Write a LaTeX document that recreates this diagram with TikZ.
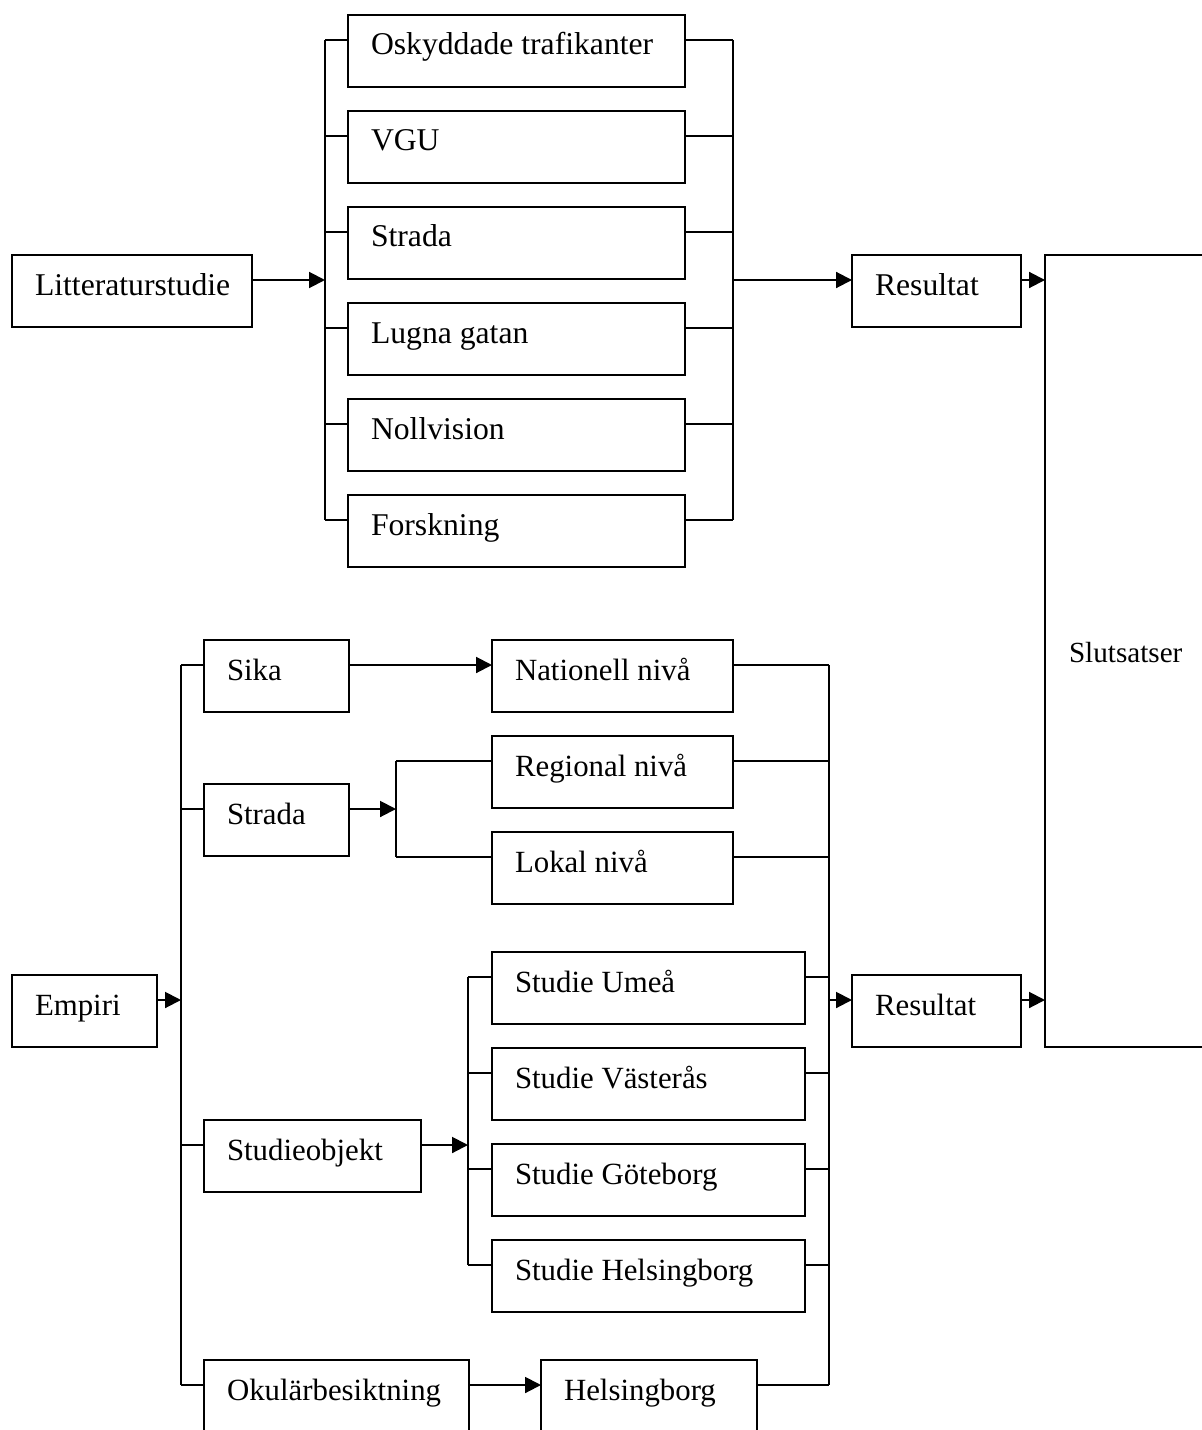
\documentclass[tikz,border=0pt]{standalone}
\usepackage{fontspec}
\setmainfont{Liberation Serif}
\usetikzlibrary{arrows.meta,calc}
\newcommand\mybox[6]{%
  \node[bx={#4}{#5}] (#1) at (#2,#3) {};
  \node[lbl] (#1-t) at ($(#1.north west)+(22,40)$) {#6};
  \coordinate (#1-l) at ($(#1.north west)+(0,25)$);
  \coordinate (#1-r) at ($(#1.north east)+(0,25)$);
}
\begin{document}
\begin{tikzpicture}[x=0.6pt,y=-0.6pt,
  line width=1.2pt,
  bx/.style 2 args={draw, rectangle, inner sep=0pt, outer sep=0pt, anchor=north west,
    minimum width={#1*0.6pt}, minimum height={#2*0.6pt}},
  lbl/.style={anchor=base west, inner sep=0pt, font=\fontsize{19}{22}\selectfont},
  arr/.style={-{Triangle[length=9.5pt,width=9.5pt]}}]
\useasboundingbox (0,0) rectangle (1202,1430);
\clip (0,0) rectangle (1202,1430);
% ---------- top group ----------
\mybox{lit}{12}{255}{240}{72}{Litteraturstudie}
\mybox{osk}{348}{15}{337}{72}{Oskyddade trafikanter}
\mybox{vgu}{348}{111}{337}{72}{VGU}
\mybox{str}{348}{207}{337}{72}{Strada}
\mybox{lug}{348}{303}{337}{72}{Lugna gatan}
\mybox{nol}{348}{399}{337}{72}{Nollvision}
\mybox{for}{348}{495}{337}{72}{Forskning}
\mybox{resa}{852}{255}{169}{72}{Resultat}
% Slutsatser
\node[bx={210}{792}] (slut) at (1045,255) {};
\node[lbl, font=\fontsize{17.5}{21}\selectfont] (slut-t) at ($(slut.north west)+(23,407)$) {Slutsatser};
\coordinate (slut-a) at ($(slut.north west)+(0,25)$);
\coordinate (slut-b) at ($(slut.north west)+(0,745)$);
\coordinate (b1) at (325,0);
\coordinate (b2) at (733,0);
\draw[arr] (lit-r) -- (b1 |- lit-r);
\draw (b1 |- osk-l) -- (b1 |- for-l);
\draw (b2 |- osk-r) -- (b2 |- for-r);
\foreach \n in {osk,vgu,str,lug,nol,for}{
  \draw (b1 |- \n-l) -- (\n-l);
  \draw (\n-r) -- (b2 |- \n-r);
}
\draw[arr] (b2 |- resa-l) -- (resa-l);
\draw[arr] (resa-r) -- (slut-a);
% ---------- bottom group ----------
\begin{scope}[lbl/.append style={font=\fontsize{18.5}{22}\selectfont}]
\mybox{emp}{12}{975}{145}{72}{Empiri}
\mybox{sik}{204}{640}{145}{72}{Sika}
\mybox{stb}{204}{784}{145}{72}{Strada}
\mybox{sob}{204}{1120}{217}{72}{Studieobjekt}
\mybox{oku}{204}{1360}{265}{100}{Okulärbesiktning}
\mybox{nat}{492}{640}{241}{72}{Nationell nivå}
\mybox{reg}{492}{736}{241}{72}{Regional nivå}
\mybox{lok}{492}{832}{241}{72}{Lokal nivå}
\mybox{ume}{492}{952}{313}{72}{Studie Umeå}
\mybox{vas}{492}{1048}{313}{72}{Studie Västerås}
\mybox{got}{492}{1144}{313}{72}{Studie Göteborg}
\mybox{hel}{492}{1240}{313}{72}{Studie Helsingborg}
\mybox{hbg}{541}{1360}{216}{100}{Helsingborg}
\mybox{resb}{852}{975}{169}{72}{Resultat}
\end{scope}
\coordinate (b3) at (181,0);
\coordinate (b4) at (396,0);
\coordinate (b5) at (468,0);
\coordinate (b6) at (829,0);
\draw[arr] (emp-r) -- (b3 |- emp-r);
\draw (b3 |- sik-l) -- (b3 |- oku-l);
\foreach \n in {sik,stb,sob,oku}{
  \draw (b3 |- \n-l) -- (\n-l);
}
\draw[arr] (sik-r) -- (nat-l);
\draw[arr] (stb-r) -- (b4 |- stb-r);
\draw (b4 |- reg-l) -- (b4 |- lok-l);
\foreach \n in {reg,lok}{
  \draw (b4 |- \n-l) -- (\n-l);
}
\draw[arr] (sob-r) -- (b5 |- sob-r);
\draw (b5 |- ume-l) -- (b5 |- hel-l);
\foreach \n in {ume,vas,got,hel}{
  \draw (b5 |- \n-l) -- (\n-l);
}
\draw[arr] (oku-r) -- (hbg-l);
\draw (b6 |- nat-r) -- (b6 |- hbg-r);
\foreach \n in {nat,reg,lok,ume,vas,got,hel,hbg}{
  \draw (\n-r) -- (b6 |- \n-r);
}
\draw[arr] (b6 |- resb-l) -- (resb-l);
\draw[arr] (resb-r) -- (slut-b);
\end{tikzpicture}
\end{document}
